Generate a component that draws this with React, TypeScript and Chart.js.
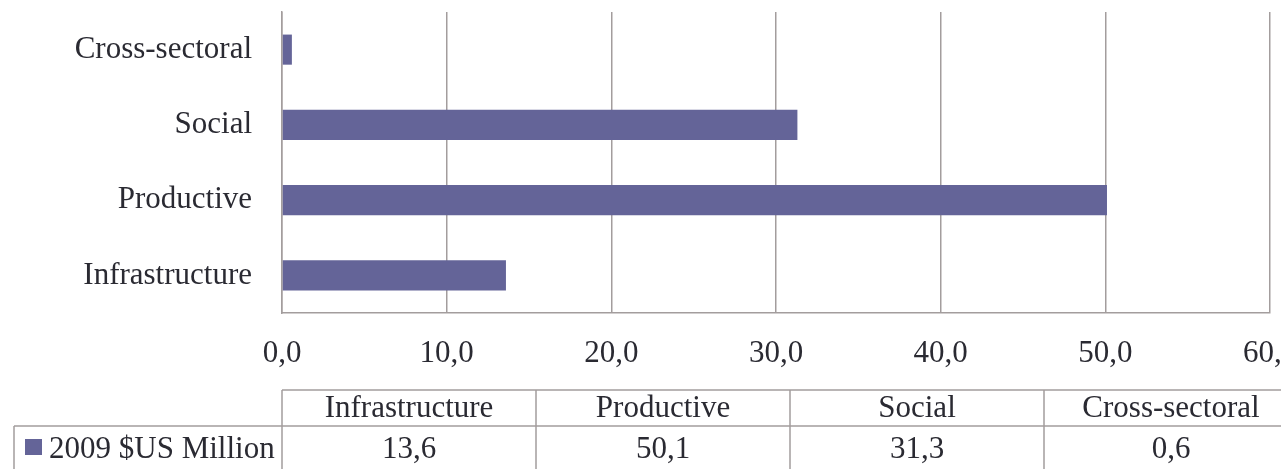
import { useEffect, useRef } from 'react';
import { Chart, registerables } from 'chart.js';

Chart.register(...registerables);

const categories = ['Infrastructure', 'Productive', 'Social', 'Cross-sectoral'];
const values = [13.6, 50.1, 31.3, 0.6];
const seriesName = '2009 $US Million';
const xMin = 0;
const xMax = 60;
const xStep = 10;

const FONT = '"Liberation Serif", serif';
const FONT_SIZE = 31;
const BAR_COLOR = '#646498';
const LINE_COLOR = '#a39d9d';
const TEXT_COLOR = '#2a2a32';

const fmt = (v: number) => v.toFixed(1).replace('.', ',');

const tablePlugin = {
  id: 'dataTable',
  afterDraw(chart: any) {
    const { ctx, chartArea, width, height } = chart;
    const left = chartArea.left;
    const colW = 254;
    const headTop = 390;
    const rowTop = 426;
    const bottom = height + 2;
    const labelLeft = 14;
    ctx.save();
    ctx.strokeStyle = LINE_COLOR;
    ctx.lineWidth = 1.5;
    ctx.beginPath();
    ctx.moveTo(left, headTop);
    ctx.lineTo(width + 2, headTop);
    ctx.moveTo(labelLeft, rowTop);
    ctx.lineTo(width + 2, rowTop);
    ctx.moveTo(labelLeft, rowTop);
    ctx.lineTo(labelLeft, bottom);
    for (let i = 0; i <= categories.length; i++) {
      const x = left + i * colW;
      ctx.moveTo(x, headTop);
      ctx.lineTo(x, bottom);
    }
    ctx.stroke();

    ctx.fillStyle = TEXT_COLOR;
    ctx.font = `${FONT_SIZE}px ${FONT}`;
    ctx.textAlign = 'center';
    ctx.textBaseline = 'middle';
    categories.forEach((c, i) => {
      const cx = left + i * colW + colW / 2;
      ctx.fillText(c, cx, 409);
      ctx.fillText(fmt(values[i]), cx, 450);
    });
    ctx.textAlign = 'left';
    ctx.fillText(seriesName, 49, 450);
    ctx.fillStyle = BAR_COLOR;
    ctx.fillRect(25, 439, 17, 16);
    ctx.restore();
  },
};

export default function App() {
  const canvasRef = useRef<HTMLCanvasElement | null>(null);

  useEffect(() => {
    document.body.style.margin = '0';
    const canvas = canvasRef.current;
    if (!canvas) return;
    const chart = new Chart(canvas, {
      type: 'bar',
      data: {
        labels: categories,
        datasets: [
          {
            label: seriesName,
            data: values,
            backgroundColor: BAR_COLOR,
            borderWidth: 0,
            categoryPercentage: 1,
            barPercentage: 0.4,
          },
        ],
      },
      options: {
        indexAxis: 'y',
        animation: false,
        responsive: true,
        maintainAspectRatio: false,
        layout: { padding: { top: 12, right: 11, left: 0, bottom: 0 } },
        plugins: {
          legend: { display: false },
          tooltip: { enabled: false },
        },
        scales: {
          x: {
            min: xMin,
            max: xMax,
            ticks: {
              stepSize: xStep,
              callback: (v: any) => fmt(Number(v)),
              color: TEXT_COLOR,
              font: { family: FONT, size: FONT_SIZE },
              padding: 22,
              maxRotation: 0,
              autoSkip: false,
            },
            grid: { color: LINE_COLOR, lineWidth: 1.5, drawTicks: false },
            border: { display: true, color: LINE_COLOR, width: 1.5 },
            afterFit: (scale: any) => {
              scale.height = 156;
              scale.paddingLeft = 0;
              scale.paddingRight = 0;
            },
          },
          y: {
            reverse: true,
            ticks: {
              color: TEXT_COLOR,
              font: { family: FONT, size: FONT_SIZE },
              padding: 30,
            },
            grid: { display: false, drawTicks: false },
            border: { display: true, color: LINE_COLOR, width: 1.5 },
            afterFit: (scale: any) => {
              scale.width = 282;
              scale.paddingTop = 0;
              scale.paddingBottom = 0;
            },
          },
        },
      },
      plugins: [tablePlugin],
    });
    return () => chart.destroy();
  }, []);

  return (
    <div style={{ width: 1281, height: 469, position: 'relative', background: '#fff' }}>
      <canvas ref={canvasRef} />
    </div>
  );
}
